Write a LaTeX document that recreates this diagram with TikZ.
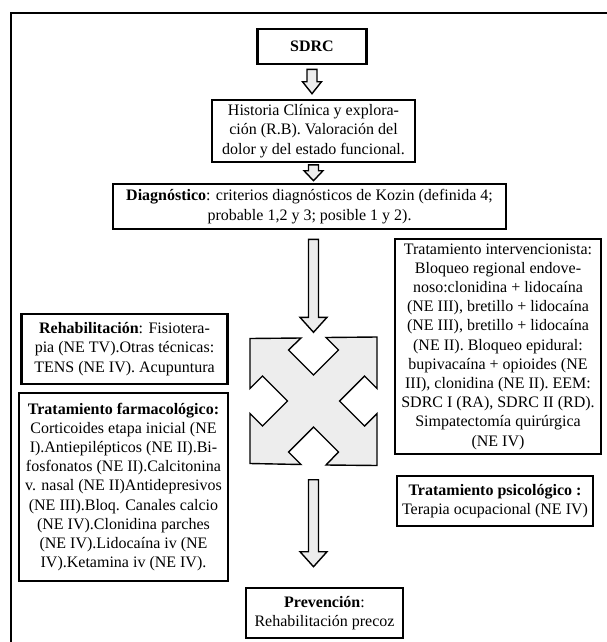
\documentclass[tikz,border=0pt]{standalone}
\usepackage{fontspec}
\setmainfont{Liberation Serif}
\usetikzlibrary{calc}
\tikzset{box/.style = {draw, line width=2.6pt, align=center, inner sep=0pt,
                       font=\fontsize{16}{19.2}\selectfont},
         frame/.style = {line width=2.2pt},
         blockarrow/.style = {draw, line width=1.4pt, fill=black!7, line join=miter},
         hubshape/.style = {draw, line width=1.4pt, fill=black!7, line join=miter}}
\newcommand{\hollowarrow}[7]{%
  \draw [blockarrow] let \p1 = (#1), \p2 = (#2) in
    (\x1-#5, \y1-#3) -- (\x1-#5, \y2+#4+#7) -- (\x1-#6, \y2+#4+#7)
    -- (\x1, \y2+#4) -- (\x1+#6, \y2+#4+#7) -- (\x1+#5, \y2+#4+#7)
    -- (\x1+#5, \y1-#3) -- cycle;}

\begin{document}
\begin{tikzpicture}[x=1pt, y=-1pt]
  \useasboundingbox (0,0) rectangle (607,642);
  \draw [frame] (11,642) -- (11,13) -- (607,13);
  \node [box, minimum width=109pt, minimum height=35pt] (sdrc) at (312,46.5) {\textbf{SDRC}};
  \node [box, minimum width=203pt, minimum height=62pt] (hist) at (313.5,131)
    {Historia Clínica y explora-\\ción (R.B). Valoración del\\dolor y del estado funcional.};
  \node [box, minimum width=393pt, minimum height=45pt] (diag) at (309.5,206.5)
    {\textbf{Diagnóstico}: criterios diagnósticos de Kozin (definida 4;\\probable 1,2 y 3; posible 1 y 2).};
  \node [box, minimum width=206pt, minimum height=70pt] (rehab) at (124.5,349)
    {\textbf{Rehabilitación}: Fisiotera-\\pia (NE TV).Otras técnicas:\\TENS (NE IV). Acupuntura};
  \node [box, minimum width=209pt, minimum height=188pt] (farm) at (123.5,487)
    {\textbf{Tratamiento farmacológico:}\\Corticoides etapa inicial (NE\\I).Antiepilépticos (NE II).Bi-\\fosfonatos (NE II).Calcitonina\\v. nasal (NE II)Antidepresivos\\(NE III).Bloq. Canales calcio\\(NE IV).Clonidina parches\\(NE IV).Lidocaína iv (NE\\IV).Ketamina iv (NE IV).};
  \node [box, minimum width=206pt, minimum height=215pt] (interv) at (498,346.5)
    {Tratamiento intervencionista:\\Bloqueo regional endove-\\noso:clonidina + lidocaína\\(NE III), bretillo + lidocaína\\(NE III), bretillo + lidocaína\\(NE II). Bloqueo epidural:\\bupivacaína + opioides (NE\\III), clonidina (NE II). EEM:\\SDRC I (RA), SDRC II (RD).\\Simpatectomía quirúrgica\\(NE IV)};
  \node [box, minimum width=196pt, minimum height=50pt] (psico) at (495,501)
    {\textbf{Tratamiento psicológico :}\\Terapia ocupacional (NE IV)};
  \node [box, minimum width=157pt, minimum height=50pt] (prev) at (324.5,613)
    {\textbf{Prevención}:\\Rehabilitación precoz};
  \node [minimum size=127pt, inner sep=0pt] (hub) at (313.5,401) {};
  \begin{scope}[shift={(hub.center)}]
    \draw [hubshape] (-63.5,-62.5) -- (-12.5,-63) -- (-25,-51) -- (0,-26) -- (25,-51)
      -- (12.5,-63.5) -- (63.5,-64) -- (63.5,-12.5) -- (51,-25) -- (26,0) -- (51,25)
      -- (63.5,12.5) -- (63.5,64.5) -- (12.5,64) -- (25,51) -- (0,26) -- (-25,51)
      -- (-12.5,63.5) -- (-63.5,62.5) -- (-63.5,12.5) -- (-51,25) -- (-26,0)
      -- (-51,-25) -- (-63.5,-12.5) -- cycle;
  \end{scope}
  \hollowarrow{sdrc.south}{hist.north}{4pt}{5pt}{5pt}{9.5pt}{12pt}
  \hollowarrow{hist.south}{diag.north}{1.5pt}{2pt}{5pt}{9.5pt}{10pt}
  \hollowarrow{diag.south -| hub.north}{hub.north}{9pt}{5pt}{5pt}{13.5pt}{15pt}
  \hollowarrow{hub.south}{prev.north}{15pt}{20pt}{5pt}{13.5pt}{15pt}
\end{tikzpicture}
\end{document}
